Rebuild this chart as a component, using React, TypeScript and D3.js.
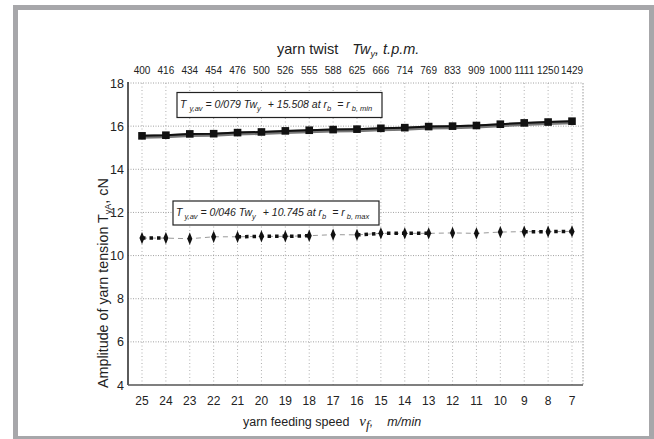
import React from "react";
import * as d3 from "d3";

const speeds = [25, 24, 23, 22, 21, 20, 19, 18, 17, 16, 15, 14, 13, 12, 11, 10, 9, 8, 7];
const twists = [400, 416, 434, 454, 476, 500, 526, 555, 588, 625, 666, 714, 769, 833, 909, 1000, 1111, 1250, 1429];
const tensionMin = [15.55, 15.58, 15.64, 15.65, 15.70, 15.73, 15.78, 15.81, 15.84, 15.86, 15.90, 15.93, 15.98, 16.0, 16.03, 16.09, 16.15, 16.19, 16.23];
const tensionMax = [10.81, 10.81, 10.78, 10.87, 10.87, 10.89, 10.89, 10.92, 10.97, 10.96, 11.03, 11.03, 11.03, 11.05, 11.03, 11.09, 11.11, 11.11, 11.12];
const yTicks = [4, 6, 8, 10, 12, 14, 16, 18];
const dottedSegments: [number, number][] = [[0, 1], [4, 7], [9, 12], [16, 18]];

const W = 654;
const H = 439;
const left = 128;
const right = 583;
const top = 83;
const bottom = 385;
const font = "'Liberation Sans', Arial, sans-serif";

export default function App() {
  const idx = speeds.map((_, i) => i);
  const x = d3.scalePoint<number>().domain(idx).range([142, 572]);
  const y = d3.scaleLinear().domain([4, 18]).range([bottom, top]);

  const pathFor = (vals: number[], ids: number[]) =>
    d3
      .line<number>()
      .x((i) => x(i)!)
      .y((i) => y(vals[i]))(ids) || "";

  const minPath = pathFor(tensionMin, idx);
  const maxPath = pathFor(tensionMax, idx);

  const diamond = d3.symbol().type(d3.symbolDiamond).size(28)() || "";

  return (
    <svg
      width={W}
      height={H}
      style={{ position: "absolute", left: 0, top: 0, background: "#fff" }}
      fontFamily={font}
    >
      <rect x={15.5} y={7.5} width={636} height={431} fill="#fff" stroke="#a7a7aa" strokeWidth={5} />

      {/* grid */}
      {idx.map((i) => (
        <line key={"vg" + i} x1={x(i)} x2={x(i)} y1={top} y2={bottom} stroke="#9a9a9a" strokeWidth={0.8} strokeDasharray="1,2.5" />
      ))}
      {yTicks.slice(1).map((t) => (
        <line key={"hg" + t} x1={left} x2={right} y1={y(t)} y2={y(t)} stroke="#8a8a8a" strokeWidth={0.8} strokeDasharray="1,1.5" />
      ))}
      <line x1={right} x2={right} y1={top} y2={bottom} stroke="#9a9a9a" strokeWidth={1} strokeDasharray="1.5,1.5" />
      {/* axes */}
      <line x1={left} x2={left} y1={top - 1} y2={bottom} stroke="#333" strokeWidth={1.6} />
      <line x1={left} x2={right} y1={bottom} y2={bottom} stroke="#555" strokeWidth={1.6} />

      {/* y tick labels */}
      {yTicks.map((t) => (
        <text key={"yt" + t} x={124} y={y(t) + 4.5} textAnchor="end" fontSize={12.5} fill="#222">
          {t}
        </text>
      ))}
      {/* bottom labels */}
      {speeds.map((s, i) => (
        <text key={"bx" + i} x={x(i)} y={405} textAnchor="middle" fontSize={12} fill="#222">
          {s}
        </text>
      ))}
      {/* top labels */}
      {twists.map((s, i) => (
        <text key={"tx" + i} x={x(i)} y={73.5} textAnchor="middle" fontSize={10} fill="#222">
          {s}
        </text>
      ))}

      {/* titles */}
      <text x={277} y={54} fontSize={14.5} fill="#222">
        <tspan>yarn twist</tspan>
        <tspan dx={14} fontStyle="italic">Tw</tspan>
        <tspan dy={3} fontSize={9} fontStyle="italic">y</tspan>
        <tspan dy={-3} fontStyle="italic">, t.p.m.</tspan>
      </text>
      <text x={243} y={426} fontSize={12.5} fill="#222">
        <tspan>yarn feeding speed</tspan>
        <tspan dx={10} fontFamily="'Liberation Serif', serif" fontStyle="italic" fontSize={15}>v</tspan>
        <tspan dy={3} fontFamily="'Liberation Serif', serif" fontStyle="italic" fontSize={13}>f</tspan>
        <tspan dy={-3} fontStyle="italic">,</tspan>
        <tspan dx={14} fontStyle="italic">m/min</tspan>
      </text>
      <text transform="translate(108,388) rotate(-90)" fontSize={14.3} fill="#222">
        <tspan>Amplitude of yarn tension T</tspan>
        <tspan dy={3} fontSize={9}>yA</tspan>
        <tspan dy={-3}>, cN</tspan>
      </text>

      {/* series max: thin dashed + thick dotted segments */}
      <path d={maxPath} fill="none" stroke="#999" strokeWidth={1} strokeDasharray="5,4" />
      {dottedSegments.map(([a, b], k) => (
        <path
          key={"ds" + k}
          d={pathFor(tensionMax, d3.range(a, b + 1))}
          fill="none"
          stroke="#111"
          strokeWidth={3.5}
          strokeDasharray="3.5,4"
        />
      ))}
      {idx.map((i) => (
        <path key={"dm" + i} d={diamond} transform={`translate(${x(i)},${y(tensionMax[i])}) scale(0.9,1.25)`} fill="#111" />
      ))}

      {/* series min */}
      <path d={minPath} fill="none" stroke="#777" strokeWidth={4} transform="translate(0,1)" />
      <path d={minPath} fill="none" stroke="#111" strokeWidth={2} />
      {idx.map((i) => (
        <rect key={"sq" + i} x={x(i)! - 3.8} y={y(tensionMin[i]) - 3.8} width={7.6} height={7.6} fill="#111" />
      ))}

      {/* annotation boxes */}
      <rect x={177} y={92.5} width={205} height={25} fill="#fff" stroke="#222" strokeWidth={1.2} />
      <text x={180} y={108} fontSize={10.5} fontStyle="italic" fill="#222">
        <tspan>T</tspan>
        <tspan dx={3} dy={3} fontSize={7.5}>y,av</tspan>
        <tspan dy={-3}> = 0/079 Tw</tspan>
        <tspan dy={3} fontSize={7.5}>y</tspan>
        <tspan dy={-3} dx={7}>+ 15.508 at r</tspan>
        <tspan dy={3} fontSize={7.5}>b</tspan>
        <tspan dy={-3} dx={6}>= r</tspan>
        <tspan dx={2} dy={3} fontSize={7.5}>b, min</tspan>
      </text>

      <rect x={173} y={201} width={206} height={24} fill="#fff" stroke="#222" strokeWidth={1.2} />
      <text x={176} y={216} fontSize={10.5} fontStyle="italic" fill="#222">
        <tspan>T</tspan>
        <tspan dx={2} dy={3} fontSize={7.5}>y,av</tspan>
        <tspan dy={-3}> = 0/046 Tw</tspan>
        <tspan dy={3} fontSize={7.5}>y</tspan>
        <tspan dy={-3} dx={7}>+ 10.745 at r</tspan>
        <tspan dy={3} fontSize={7.5}>b</tspan>
        <tspan dy={-3} dx={6}>= r</tspan>
        <tspan dx={2} dy={3} fontSize={7.5}>b, max</tspan>
      </text>
    </svg>
  );
}
